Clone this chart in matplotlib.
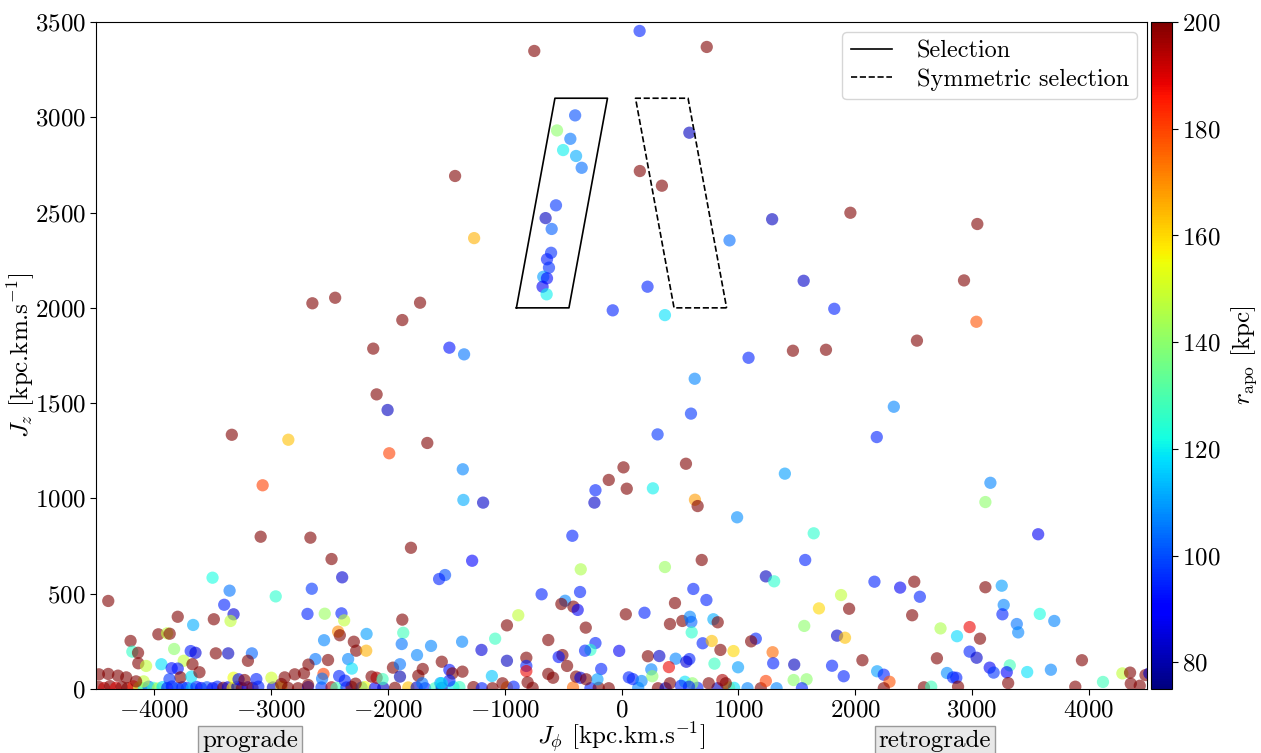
import matplotlib
matplotlib.use("Agg")
import matplotlib.pyplot as plt
import numpy as np

plt.rcParams['font.family'] = 'serif'
plt.rcParams['font.serif'] = ['cmr10', 'DejaVu Serif']
plt.rcParams['mathtext.fontset'] = 'cm'
plt.rcParams['axes.formatter.use_mathtext'] = True
plt.rcParams['axes.unicode_minus'] = True

# ---------------- data ----------------
# columns: J_phi, J_z, r_apo   (r_apo >= 200 is drawn saturated)
jphi_top = [155, -747, 730, -397, -552, -438, -500, -389, -341, -561, -650, -598, -603, -638, -621, -670, -638, -676, -641]
jz_top = [3453, 3348, 3369, 3010, 2931, 2887, 2828, 2797, 2735, 2538, 2471, 2414, 2289, 2255, 2211, 2163, 2155, 2111, 2071]
r_top = [95, 210, 210, 100, 140, 105, 120, 112, 104, 97, 82, 102, 96, 94, 96, 110, 92, 88, 120]

jphi_up = [581, -1425, 157, 346, 1290, -1262, 925, 223, 1560, -75, 372, 1822, -1725, -1474, -1348, 1088, 1468, 1751,
           -2647, -2452, -1877, -2126, 1960, 3047, 2933, 3039, 2530]
jz_up = [2919, 2692, 2718, 2641, 2465, 2366, 2354, 2111, 2142, 1987, 1962, 1995, 2027, 1791, 1756, 1738, 1775, 1780,
         2024, 2053, 1936, 1786, 2499, 2440, 2144, 1927, 1828]
r_up = [82, 210, 210, 210, 82, 165, 104, 95, 83, 95, 118, 95, 210, 93, 105, 95, 210, 210,
        210, 210, 210, 210, 210, 210, 210, 178, 210]

jphi_mid = [-2097, -2003, -3337, -2853, -1989, -3073, -3090, -2664, -1803, -2483, -2392, 627, 595, 309, -1663, 552,
            -1359, 1399, 17, -109, -223, 45, 269, -1354, -1185, -232, 629, 652, 990, 1646, -421, 2332, 2186, 3159,
            3116, 3568]
jz_mid = [1546, 1464, 1334, 1308, 1237, 1069, 799, 794, 741, 682, 586, 1628, 1445, 1336, 1291, 1182,
          1153, 1130, 1163, 1097, 1043, 1051, 1053, 992, 978, 978, 993, 960, 901, 817, 804, 1481, 1322, 1082,
          981, 812]
r_mid = [210, 82, 210, 163, 180, 180, 210, 210, 210, 210, 84, 107, 97, 97, 210, 210,
         107, 110, 210, 210, 95, 210, 120, 112, 83, 83, 168, 210, 108, 125, 95, 107, 95, 107,
         140, 88]

jphi_left = [-4395, -3502, -3356, -3402, -2652, -2961, -3322, -3348, -3800, -2689, -2541, -2398, -2375, -1877, -3491,
             -3966, -3891, -3869, -3668, -4204, -2427, -2412, -2183, -1869, -2547, -2292, -1882, -4189, -4140, -3831,
             -3689, -3648, -3474, -3368, -3165, -2272, -2186, -1751, -1631, -1539, -4138, -4071, -3940, -3749, -3674,
             -3852, -3800, -3199, -2621, -2513, -2681, -2341, -2309, -1957, -1897, -1702, -1740, -1897, -4475, -4395,
             -4312, -4241, -3777, -3871, -3683, -3614, -4092, -4157, -3322, -3279, -3228, -3127, -2998, -2884, -2798,
             -2719, -2552, -2564, -2418, -2369, -2140, -2097, -2046, -1706, -1551, -2913, -2684, -2277]
jz_left = [462, 584, 516, 442, 526, 486, 392, 357, 379, 394, 395, 397, 360, 364, 366,
           287, 292, 290, 336, 252, 301, 282, 289, 295, 256, 248, 236, 196, 190, 210,
           199, 190, 187, 187, 187, 201, 201, 178, 226, 143, 135, 121, 130, 148, 130,
           109, 107, 148, 157, 152, 128, 157, 107, 112, 130, 105, 70, 65, 77, 79,
           70, 61, 61, 51, 65, 88, 40, 40, 59, 51, 47, 52, 59, 61, 77,
           82, 79, 54, 68, 44, 65, 59, 52, 30, 31, 26, 21, 28]
r_left = [210, 122, 105, 95, 97, 125, 85, 148, 210, 95, 142, 95, 148, 210, 210,
          210, 148, 210, 112, 210, 170, 210, 110, 128, 107, 210, 105, 126, 210, 140,
          94, 85, 210, 82, 103, 210, 165, 107, 107, 210, 210, 148, 118, 148, 210,
          93, 93, 210, 105, 210, 210, 107, 118, 210, 105, 210, 210, 80, 210, 210,
          210, 210, 210, 97, 118, 210, 148, 210, 155, 88, 210, 95, 150, 210, 210,
          210, 180, 105, 95, 95, 210, 195, 128, 105, 110, 210, 210, 210]

jphi_cen = [-1279, -1511, -1562, -349, -684, -355, -483, -515, -412, -375, -884, -981, -306, -1365, -1082, -627,
            -223, -1199, -266, -312, -20, -506, -538, -981, -815, -815, -815, -466, -1474, -1448, -1362, -174,
            -627, -586, -389, -352, -303, -1474, -1110, -804, -206, -1019, -1539]
jz_cen = [673, 598, 577, 628, 497, 509, 463, 446, 432, 415, 387, 334, 322, 248, 264, 257,
          241, 205, 205, 201, 200, 178, 168, 148, 164, 121, 94, 121, 100, 82, 91, 105,
          79, 59, 65, 59, 51, 44, 68, 35, 51, 30, 30]
r_cen = [90, 100, 95, 145, 95, 95, 107, 210, 210, 88, 148, 210, 210, 107, 127, 210,
         95, 85, 125, 95, 88, 210, 93, 82, 210, 95, 188, 210, 93, 210, 210, 95,
         210, 210, 210, 85, 210, 95, 115, 210, 110, 210, 118]

jphi_rc = [372, 687, 1236, 1307, 615, 727, 458, 37, 197, 415, 521, 586, 598, 601, 787, 824, 695, 773, 847, 959,
           1150, 1110, 1294, 226, 324, 464, 581, 555, 796, 998, 1299, 1479, 406, 255, 63, 97, 172, 264, 1236,
           1474, 415, 543, 607, 509, 578, 747, 864, 893]
jz_rc = [640, 677, 591, 565, 525, 467, 451, 392, 400, 341, 357, 379, 352, 297, 366, 350, 240, 252, 205, 199,
         264, 250, 193, 172, 173, 159, 157, 143, 133, 114, 135, 128, 115, 103, 61, 52, 42, 67, 42,
         47, 30, 38, 30, 17, 12, 30, 47, 30]
r_rc = [142, 210, 82, 125, 95, 95, 210, 210, 95, 210, 210, 107, 103, 125, 112, 210, 95, 163, 210, 160,
        95, 210, 175, 210, 83, 107, 95, 85, 127, 110, 95, 82, 188, 107, 95, 95, 107, 140, 180,
        140, 210, 118, 140, 95, 95, 210, 195, 210]

jphi_right = [1573, 2166, 2386, 2507, 2555, 1880, 1691, 1949, 2489, 1565, 1846, 1914, 2732, 2873, 2981, 2981, 2063,
              2701, 1803, 1903, 2189, 2246, 2295, 2787, 2839, 2867, 1585, 2882, 2246, 2590, 2652, 1545, 3116, 3256,
              3273, 3262, 3385, 3397, 3582, 3706, 3070, 3041, 3943, 3153, 3187, 3325, 3299, 3474, 3677, 3311, 3886,
              4123, 4289, 4355, 4361, 4438, 4487, 4520]
jz_right = [677, 563, 532, 563, 484, 493, 423, 421, 387, 331, 280, 269, 318, 277, 325, 196, 151,
            161, 122, 67, 93, 75, 38, 84, 61, 59, 51, 12, 4, 9, 12, 4, 534, 542,
            441, 392, 341, 297, 394, 357, 264, 164, 151, 112, 86, 124, 88, 89, 101, 31, 12,
            37, 82, 86, 28, 17, 73, 82]
r_right = [95, 95, 88, 210, 95, 148, 160, 210, 210, 140, 83, 163, 145, 117, 188, 95, 210,
           210, 95, 95, 110, 95, 178, 108, 95, 95, 140, 210, 210, 210, 128, 95, 210, 110,
           107, 95, 105, 107, 122, 107, 210, 83, 210, 88, 97, 128, 90, 118, 107, 210, 210,
           128, 148, 210, 210, 210, 210, 82]

jphi_bot = [-4480, -4430, -4380, -4330, -4280, -4230, -4180, -4130, -4090, -4050, -4010, -3970, -3930, -3890, -3850,
            -3800, -3760, -3720, -3680, -3640, -3600, -3550, -3500, -3460, -3410, -3370, -3330, -3290, -3250, -3200,
            -3160, -3110, -2985, -2913, -2856, -2770, -2684, -2569, -2483, -2440, -2355, -2312, -2226, -2198, -2112,
            -2040, -1940, -1826, -1754, -1682, -1597, -1539, -1439, -1388, -1268, -1196, -1105, -981, -924, -761,
            -415, -266, -195, -109, 143, 312, 378, 650, 822, 921, 964, 1079, 1193, 1328]
jz_bot = [12, 5, 15, 6, 10, 4, 14, 8, 4, 12, 6, 3, 10, 5, 13,
          4, 9, 6, 3, 11, 5, 9, 4, 12, 6, 9, 4, 11, 4, 9,
          6, 12, 8, 12, 6, 4, 10, 8, 9, 5, 8, 11, 7, 10, 4,
          6, 6, 8, 8, 4, 4, 6, 10, 10, 10, 4, 4, 9, 12, 6,
          8, 4, 6, 4, 6, 4, 4, 6, 4, 8, 6, 4, 4, 4]
r_bot = [210, 192, 210, 190, 210, 210, 185, 150, 122, 100, 127, 145, 118, 95, 92,
         100, 95, 98, 115, 95, 92, 100, 88, 95, 210, 85, 158, 80, 210, 92,
         210, 95, 82, 158, 210, 210, 95, 97, 195, 128, 95, 210, 107, 155, 88,
         82, 210, 163, 82, 95, 127, 82, 118, 127, 210, 95, 210, 170, 95, 210,
         175, 95, 210, 210, 107, 210, 82, 95, 82, 148, 118, 107, 210, 107]

# selection polygons
sel_jphi = [-900, -450, -120, -570, -900]
sel_jz = [2000, 2000, 3100, 3100, 2000]
sym_jphi = [900, 450, 120, 570, 900]
sym_jz = [2000, 2000, 3100, 3100, 2000]

xticks = [-4000, -3000, -2000, -1000, 0, 1000, 2000, 3000, 4000]
yticks = [0, 500, 1000, 1500, 2000, 2500, 3000, 3500]
cbar_ticks = [80, 100, 120, 140, 160, 180, 200]

jphi = jphi_bot + jphi_left + jphi_cen + jphi_rc + jphi_right + jphi_mid + jphi_up + jphi_top
jz = jz_bot + jz_left + jz_cen + jz_rc + jz_right + jz_mid + jz_up + jz_top
rapo = r_bot + r_left + r_cen + r_rc + r_right + r_mid + r_up + r_top

# ---------------- figure ----------------
fig = plt.figure(figsize=(12.61, 7.53), dpi=100)
ax = fig.add_axes([96 / 1261, 1 - 689 / 753, (1147 - 96) / 1261, (689 - 22) / 753])
cax = fig.add_axes([1151 / 1261, 1 - 689 / 753, 21 / 1261, (689 - 22) / 753])

sc = ax.scatter(jphi, jz, c=rapo, cmap='jet', vmin=75, vmax=200, s=78, alpha=0.6,
                edgecolors='none', zorder=2)

ax.plot(sel_jphi, sel_jz, color='black', lw=1.2, ls='-', label='Selection', zorder=3)
ax.plot(sym_jphi, sym_jz, color='black', lw=1.2, ls='--', label='Symmetric selection', zorder=3)

ax.set_xlim(-4500, 4500)
ax.set_ylim(0, 3500)
ax.set_xticks(xticks)
ax.set_yticks(yticks)
ax.tick_params(labelsize=18, length=4)
ax.set_xlabel(r'$J_\phi$ [kpc.km.s$^{-1}$]', fontsize=18, labelpad=-1)
ax.set_ylabel(r'$J_z$ [kpc.km.s$^{-1}$]', fontsize=18, labelpad=-2)

leg = ax.legend(loc='upper right', fontsize=17.5, handlelength=1.7, borderpad=0.35,
                labelspacing=0.25, handletextpad=1.0, borderaxespad=0.4,
                fancybox=True, framealpha=0.8)

cb = fig.colorbar(sc, cax=cax, ticks=cbar_ticks)
cb.solids.set_alpha(1)
cb.ax.tick_params(labelsize=18, length=4)
cb.set_label(r'$r_{\rm apo}$ [kpc]', fontsize=18, labelpad=6)

box = dict(boxstyle='square,pad=0.15', fc='#e8e8e8', ec='#999999', lw=1)
fig.text(250 / 1261, 1 - 741 / 753, 'prograde', fontsize=18, ha='center', va='center', bbox=box)
fig.text(935 / 1261, 1 - 741 / 753, 'retrograde', fontsize=18, ha='center', va='center', bbox=box)

fig.savefig('out.png', dpi=100)
